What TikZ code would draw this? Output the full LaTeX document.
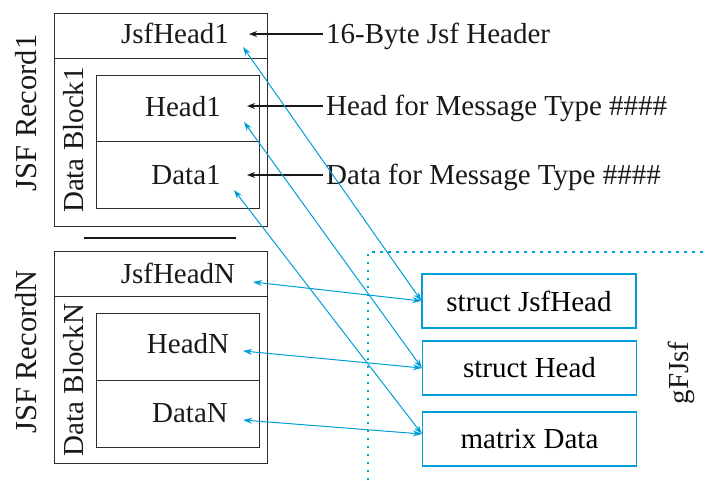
\documentclass[tikz,border=0pt]{standalone}
\usepackage{fontspec}
\setmainfont{Liberation Serif}
\newfontfamily\tms{Liberation Serif}
\usetikzlibrary{arrows.meta}
\definecolor{cy}{RGB}{0,158,214}
\definecolor{frame}{RGB}{45,45,45}
\tikzset{
  box/.style={draw=frame, line width=1.3pt, inner sep=0pt, anchor=north west},
  sbox/.style={draw=cy, line width=1.1pt, inner sep=0pt, minimum width=214pt, minimum height=54pt, font=\tms\fontsize{29}{34}\selectfont},
  lbl/.style={inner sep=0pt, font=\tms\fontsize{29}{34}\selectfont, text=black!90},
  reclbl/.style={lbl, font=\tms\fontsize{30.5}{34}\selectfont, anchor=base, rotate=90},
  ann/.style={inner sep=3pt, font=\tms\fontsize{29}{34}\selectfont, text=black!90, anchor=base west},
  blk/.style={line width=1.5pt, black!90, -{Stealth[length=8pt,width=6pt]}},
  cyl/.style={line width=1pt, cy, {Stealth[length=9pt,width=6pt]}-{Stealth[length=9pt,width=6pt]}},
  dots/.style={cy, line width=2pt, dash pattern=on 2.5pt off 5.5pt}
}
\begin{document}
\begin{tikzpicture}[x=1pt,y=1pt]
\useasboundingbox (0,0) rectangle (708,-480);
% Record 1
\node[box, minimum width=213pt, minimum height=213pt] (r1) at (54,-13) {};
\node[box, minimum width=213pt, minimum height=45pt] (r1h) at (54,-13) {};
\node[box, minimum width=163pt, minimum height=66pt] (b1h) at (96,-75) {};
\node[box, minimum width=163pt, minimum height=67pt] (b1d) at (96,-141) {};
\node[lbl, anchor=base] (tjh1) at (175,-43) {JsfHead1};
\node[lbl, anchor=base] (th1) at (183,-116) {Head1};
\node[lbl, anchor=base] (td1) at (186,-184) {Data1};
\node[reclbl] (rec1) at (36,-113) {JSF Record1};
\node[lbl, anchor=base, rotate=90] (blk1) at (83,-140) {Data Block1};
% separator
\draw[line width=1.5pt, black!90] (84,-238) -- (236,-238);
% Record N
\node[box, minimum width=213pt, minimum height=212pt] (rn) at (54,-251) {};
\node[box, minimum width=213pt, minimum height=45pt] (rnh) at (54,-251) {};
\node[box, minimum width=163pt, minimum height=67pt] (bnh) at (96,-313) {};
\node[box, minimum width=163pt, minimum height=67pt] (bnd) at (96,-380) {};
\node[lbl, anchor=base] (tjhn) at (178,-283) {JsfHeadN};
\node[lbl, anchor=base] (thn) at (188,-353) {HeadN};
\node[lbl, anchor=base] (tdn) at (190,-422) {DataN};
\node[reclbl] (recn) at (36,-352) {JSF RecordN};
\node[lbl, anchor=base, rotate=90] (blkn) at (83,-380) {Data BlockN};
% annotations
\node[ann] (a1) at (323,-43) {16-Byte Jsf Header};
\node[ann] (a2) at (323,-115) {Head for Message Type \#\#\#\#};
\node[ann] (a3) at (323,-184) {Data for Message Type \#\#\#\#};
\coordinate (k1) at (249,-34);
\coordinate (k2) at (247,-106);
\coordinate (k3) at (247,-175);
\draw[blk] (a1.west |- k1) -- (k1);
\draw[blk] (a2.west |- k2) -- (k2);
\draw[blk] (a3.west |- k3) -- (k3);
% gFJsf region
\draw[dots] (368,-480) -- (368,-252) -- (708,-252);
\node[lbl, anchor=base, rotate=90] (g) at (688,-373) {gFJsf};
\node[sbox] (sj) at (529,-301) {struct JsfHead};
\node[sbox] (sh) at (529.5,-368) {struct Head};
\node[sbox] (md) at (529.5,-439) {matrix Data};
% connector ends
\coordinate (c1) at (243,-47);
\coordinate (c2) at (244,-122);
\coordinate (c3) at (234,-190);
\coordinate (c4) at (253,-282);
\coordinate (c5) at (243,-351);
\coordinate (c6) at (243,-420);
\draw[cyl] (c1) -- (sj.west);
\draw[cyl] (c4) -- (sj.west);
\draw[cyl] (c2) -- (sh.west);
\draw[cyl] (c5) -- (sh.west);
\draw[cyl] (c3) -- ([yshift=5pt]md.west);
\draw[cyl] (c6) -- ([yshift=5pt]md.west);
\end{tikzpicture}
\end{document}
